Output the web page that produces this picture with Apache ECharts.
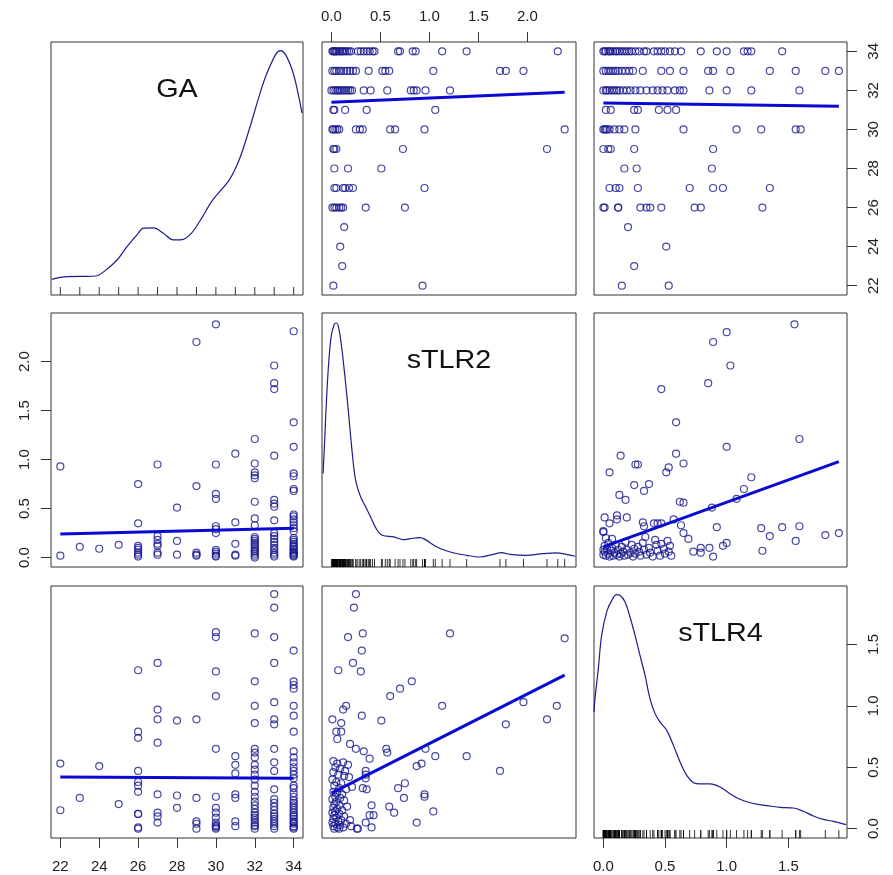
<!DOCTYPE html>
<html>
<head>
<meta charset="utf-8">
<script src="https://cdn.jsdelivr.net/npm/echarts@6/dist/echarts.min.js"></script>
<style>
  html, body { margin: 0; padding: 0; background: #fff; }
  #chart { width: 893px; height: 875px; }
</style>
</head>
<body>
<div id="chart"></div>
<script>
// variables on the diagonal
const varNames = ['GA', 'sTLR2', 'sTLR4']

// tick labels
const gaTicks = [22, 24, 26, 28, 30, 32, 34]
const s2Ticks = [0, 0.5, 1, 1.5, 2]
const s4Ticks = [0, 0.5, 1, 1.5]

// sTLR2 values for each GA week
const s2ByGA = [
  [22, [0.02, 0.93]],
  [23, [0.11]],
  [24, [0.09]],
  [25, [0.13]],
  [26, [0.01, 0.03, 0.05, 0.08, 0.10, 0.12, 0.35, 0.75]],
  [27, [0.03, 0.05, 0.12, 0.14, 0.18, 0.22, 0.95]],
  [28, [0.03, 0.17, 0.51]],
  [29, [0.02, 0.03, 0.05, 0.73, 2.20]],
  [30, [0.01, 0.02, 0.04, 0.06, 0.08, 0.25, 0.29, 0.32, 0.60, 0.65, 0.95, 2.38]],
  [31, [0.02, 0.03, 0.14, 0.36, 1.06]],
  [32, [0.00, 0.02, 0.04, 0.06, 0.07, 0.09, 0.11, 0.13, 0.15, 0.17, 0.19, 0.21, 0.33, 0.40, 0.57, 0.81, 0.84, 0.87, 0.96, 1.21]],
  [33, [0.01, 0.03, 0.05, 0.08, 0.10, 0.13, 0.16, 0.19, 0.22, 0.25, 0.38, 0.52, 0.55, 0.59, 1.04, 1.72, 1.78, 1.96]],
  [34, [0.01, 0.02, 0.03, 0.04, 0.05, 0.06, 0.08, 0.09, 0.11, 0.12, 0.14, 0.16, 0.18, 0.20, 0.27, 0.30, 0.33, 0.36, 0.39, 0.42, 0.44, 0.68, 0.70, 0.83, 0.86, 1.13, 1.38, 2.31]]
]

// sTLR4 values for each GA week
const s4ByGA = [
  [22, [0.15, 0.53]],
  [23, [0.25]],
  [24, [0.51]],
  [25, [0.20]],
  [26, [0.00, 0.01, 0.12, 0.12, 0.30, 0.35, 0.38, 0.47, 0.74, 0.79, 1.29]],
  [27, [0.05, 0.10, 0.13, 0.28, 0.70, 0.89, 0.97, 1.35]],
  [28, [0.17, 0.27, 0.88]],
  [29, [0.00, 0.04, 0.06, 0.25, 0.89]],
  [30, [0.00, 0.01, 0.02, 0.03, 0.05, 0.09, 0.13, 0.17, 0.26, 0.65, 1.08, 1.28, 1.56, 1.60]],
  [31, [0.02, 0.06, 0.25, 0.28, 0.45, 0.52, 0.59]],
  [32, [0.00, 0.02, 0.03, 0.05, 0.07, 0.09, 0.11, 0.13, 0.16, 0.19, 0.22, 0.26, 0.30, 0.35, 0.40, 0.44, 0.48, 0.52, 0.58, 0.62, 0.65, 0.86, 1.00, 1.20, 1.59]],
  [33, [0.00, 0.02, 0.04, 0.06, 0.08, 0.10, 0.12, 0.15, 0.18, 0.21, 0.24, 0.32, 0.47, 0.54, 0.65, 0.85, 0.89, 1.03, 1.35, 1.56, 1.80, 1.91]],
  [34, [0.00, 0.01, 0.02, 0.04, 0.05, 0.06, 0.08, 0.10, 0.11, 0.13, 0.15, 0.17, 0.19, 0.21, 0.23, 0.26, 0.29, 0.33, 0.35, 0.41, 0.44, 0.47, 0.50, 0.54, 0.58, 0.63, 0.79, 0.92, 1.00, 1.14, 1.17, 1.20, 1.45]]
]

// [sTLR2, sTLR4]
const s2s4 = [
  [0.25, 1.91], [0.23, 1.80], [0.17, 1.56], [0.32, 1.59], [0.31, 1.45], [1.21, 1.59], [2.38, 1.55],
  [0.22, 1.35], [0.30, 1.28], [0.07, 1.29], [0.82, 1.20], [0.70, 1.14], [0.60, 1.08], [1.13, 1.00],
  [1.96, 1.03], [2.30, 1.00], [2.20, 0.89], [1.78, 0.85], [0.15, 1.00], [0.12, 0.97], [0.01, 0.89],
  [0.10, 0.86], [0.05, 0.79], [0.10, 0.79], [0.06, 0.73], [0.31, 0.92], [0.51, 0.88], [0.19, 0.69],
  [0.25, 0.65], [0.33, 0.63], [0.56, 0.65], [0.57, 0.62], [0.96, 0.65], [0.39, 0.57], [1.06, 0.59],
  [1.38, 0.59], [0.87, 0.51], [0.92, 0.53], [1.72, 0.47], [0.35, 0.47], [0.35, 0.44], [0.35, 0.41],
  [0.13, 0.43], [0.21, 0.34], [0.32, 0.33], [0.36, 0.32], [0.68, 0.33], [0.75, 0.37], [0.74, 0.25],
  [0.95, 0.28], [0.95, 0.26], [0.41, 0.19], [0.59, 0.18], [0.64, 0.13], [1.04, 0.14], [0.87, 0.05],
  [0.39, 0.11], [0.43, 0.11], [0.35, 0.05], [0.41, 0.01], [0.26, 0.00], [0.27, 0.00], [0.19, 0.07],
  [0.02, 0.55], [0.06, 0.53], [0.12, 0.54], [0.17, 0.52], [0.04, 0.50], [0.09, 0.49], [0.14, 0.47],
  [0.02, 0.46], [0.07, 0.44], [0.18, 0.42], [0.01, 0.40], [0.05, 0.38], [0.10, 0.37], [0.03, 0.35],
  [0.08, 0.33], [0.15, 0.32], [0.02, 0.30], [0.06, 0.29], [0.11, 0.28], [0.04, 0.26], [0.09, 0.25],
  [0.01, 0.24], [0.13, 0.23], [0.05, 0.22], [0.03, 0.20], [0.08, 0.19], [0.16, 0.18], [0.02, 0.17],
  [0.06, 0.16], [0.11, 0.15], [0.04, 0.14], [0.01, 0.13], [0.08, 0.12], [0.03, 0.11], [0.13, 0.10],
  [0.05, 0.09], [0.02, 0.08], [0.10, 0.07], [0.07, 0.06], [0.01, 0.05], [0.04, 0.04], [0.15, 0.04],
  [0.09, 0.03], [0.02, 0.02], [0.06, 0.01], [0.03, 0.00], [0.12, 0.01], [0.20, 0.02], [0.08, 0.00]
]

// density curves on the diagonal
const gaDensX = [21.56, 22.2, 23.82, 24.24, 24.92, 25.43, 25.94, 26.28, 26.79, 27.30, 27.81, 28.15, 28.66, 29.16, 29.84, 30.69, 31.20, 31.71, 32.22, 32.56, 33.07, 33.32, 33.58, 33.92, 34.17, 34.43]
const gaDensY = [0.0155, 0.018, 0.0188, 0.0231, 0.0346, 0.0478, 0.0594, 0.066, 0.0663, 0.061, 0.0544, 0.0544, 0.0594, 0.0726, 0.094, 0.1138, 0.1336, 0.1633, 0.1962, 0.216, 0.2375, 0.2414, 0.2375, 0.2226, 0.2045, 0.1797]
const s2DensX = [-0.085, -0.074, -0.041, -0.007, 0.027, 0.054, 0.078, 0.112, 0.162, 0.213, 0.247, 0.298, 0.349, 0.399, 0.467, 0.518, 0.636, 0.738, 0.805, 0.907, 0.958, 1.076, 1.212, 1.381, 1.516, 1.651, 1.736, 1.821, 1.990, 2.159, 2.294, 2.396, 2.487]
const s2DensY = [1.179, 1.453, 2.316, 2.863, 3.053, 3.074, 2.989, 2.695, 2.105, 1.432, 1.095, 0.884, 0.758, 0.632, 0.463, 0.400, 0.379, 0.345, 0.358, 0.371, 0.345, 0.253, 0.189, 0.147, 0.126, 0.160, 0.181, 0.160, 0.147, 0.168, 0.177, 0.160, 0.135]
const s4DensX = [-0.076, -0.068, -0.041, -0.014, 0.027, 0.068, 0.108, 0.135, 0.176, 0.216, 0.257, 0.297, 0.338, 0.378, 0.419, 0.459, 0.514, 0.568, 0.622, 0.676, 0.730, 0.784, 0.865, 0.946, 1.027, 1.108, 1.189, 1.270, 1.351, 1.432, 1.541, 1.622, 1.703, 1.784, 1.865, 1.968]
const s4DensY = [1.000, 1.106, 1.344, 1.608, 1.794, 1.886, 1.931, 1.926, 1.873, 1.754, 1.608, 1.450, 1.291, 1.106, 0.987, 0.921, 0.854, 0.735, 0.603, 0.497, 0.439, 0.429, 0.429, 0.405, 0.352, 0.307, 0.280, 0.265, 0.254, 0.243, 0.238, 0.212, 0.175, 0.148, 0.132, 0.106]

// fitted lines, [x, y] end points per panel "row,col"
const fitLines = {
  '0,1': [[0.0, 31.40], [2.38, 31.90]],
  '0,2': [[0.0, 31.36], [1.91, 31.19]],
  '1,0': [[22, 0.24], [34, 0.30]],
  '1,2': [[0.0, 0.11], [1.91, 0.98]],
  '2,0': [[22, 0.42], [34, 0.41]],
  '2,1': [[0.0, 0.29], [2.38, 1.25]]
}

// axis limits (data range + 4%)
const limits = [[21.52, 34.48], [-0.096, 2.496], [-0.076, 1.976]]
const densMax = [0.25, 3.2, 2.0]

const cols = [[51, 252], [322, 254], [594, 253]]
const rows = [[42, 253], [313, 254], [586, 252]]

const pointColor = '#1a1a8e'
const fitColor = '#0a0ad2'
const font = '"Liberation Sans", Arial, sans-serif'

// build pairs
const gaS2 = s2ByGA.flatMap(([g, vals]) => vals.map(v => [g, v]))
const gaS4 = s4ByGA.flatMap(([g, vals]) => vals.map(v => [g, v]))
const pairData = {
  '0,1': gaS2.map(([g, v]) => [v, g]),
  '1,0': gaS2,
  '0,2': gaS4.map(([g, v]) => [v, g]),
  '2,0': gaS4,
  '1,2': s2s4.map(([a, b]) => [b, a]),
  '2,1': s2s4
}
const density = [
  gaDensX.map((x, i) => [x, gaDensY[i]]),
  s2DensX.map((x, i) => [x, s2DensY[i]]),
  s4DensX.map((x, i) => [x, s4DensY[i]])
]
const rugs = [
  s2ByGA.map(d => d[0]),
  gaS2.map(d => d[1]),
  gaS4.map(d => d[1])
]
const tickSets = [gaTicks, s2Ticks, s4Ticks]
const fmt = [v => String(v), v => v.toFixed(1), v => v.toFixed(1)]

function axis(range, opts) {
  const o = opts || {}
  const show = !!o.ticks
  return {
    type: 'value',
    min: range[0],
    max: range[1],
    position: o.position,
    splitLine: { show: false },
    axisLine: { show: false, onZero: false },
    axisTick: {
      show: show,
      length: 10,
      customValues: o.ticks,
      lineStyle: { color: '#333', width: 1 }
    },
    axisLabel: {
      show: show,
      customValues: o.ticks,
      margin: o.margin || 19,
      rotate: o.rotate || 0,
      formatter: o.fmt,
      color: '#222',
      fontSize: 15,
      fontFamily: font
    }
  }
}

const grid = [], xAxis = [], yAxis = [], series = [], graphic = []

for (let i = 0; i < 3; i++) {
  for (let j = 0; j < 3; j++) {
    const k = i * 3 + j
    grid.push({
      left: cols[j][0], width: cols[j][1],
      top: rows[i][0], height: rows[i][1],
      show: true, borderColor: '#333', borderWidth: 1,
      backgroundColor: 'transparent'
    })

    // x axis: top for col 2 on row 1, bottom for cols 1 and 3 on row 3
    let xo = {}
    if (i === 0 && j === 1) xo = { position: 'top', ticks: tickSets[j], fmt: fmt[j], margin: 18 }
    if (i === 2 && j !== 1) xo = { position: 'bottom', ticks: tickSets[j], fmt: fmt[j], margin: 21 }
    xAxis.push(Object.assign(axis(limits[j], xo), { gridIndex: k }))

    if (i === j) {
      yAxis.push(Object.assign(axis([0, densMax[i]]), { gridIndex: k }))
    } else {
      let yo = {}
      if (i === 0 && j === 2) yo = { position: 'right', ticks: tickSets[i], fmt: fmt[i], rotate: 90 }
      if (i === 1 && j === 0) yo = { position: 'left', ticks: tickSets[i], fmt: fmt[i], rotate: 90 }
      yAxis.push(Object.assign(axis(limits[i], yo), { gridIndex: k }))
    }

    if (i === j) {
      series.push({
        type: 'line', xAxisIndex: k, yAxisIndex: k,
        data: density[i], showSymbol: false, smooth: 0.35,
        lineStyle: { color: '#1c1c8c', width: 1.2 }, silent: true
      })
      series.push({
        type: 'scatter', xAxisIndex: k, yAxisIndex: k,
        data: rugs[i].map(v => [v, 0]),
        symbol: 'rect', symbolSize: [1, 8], symbolOffset: [0, -4],
        itemStyle: { color: '#000' }, silent: true
      })
      graphic.push({
        type: 'text',
        x: cols[j][0] + cols[j][1] / 2,
        y: rows[i][0] + 48,
        scaleX: 1.15,
        style: {
          text: varNames[i], fill: '#111',
          font: '25px ' + font,
          align: 'center', verticalAlign: 'middle'
        }
      })
    } else {
      const key = i + ',' + j
      series.push({
        type: 'scatter', xAxisIndex: k, yAxisIndex: k,
        data: pairData[key], symbol: 'circle', symbolSize: 7,
        itemStyle: { color: 'rgba(0,0,0,0)', borderColor: pointColor, borderWidth: 1.2 },
        silent: true
      })
      series.push({
        type: 'line', xAxisIndex: k, yAxisIndex: k,
        data: fitLines[key], showSymbol: false,
        lineStyle: { color: fitColor, width: 3 }, silent: true, z: 3
      })
    }
  }
}

// extra right axis on the sTLR4 density panel (scale of row 3)
yAxis.push(Object.assign(axis(limits[2], { position: 'right', ticks: s4Ticks, fmt: fmt[2], rotate: 90 }), { gridIndex: 8 }))

const chart = echarts.init(document.getElementById('chart'))
chart.setOption({
  animation: false,
  backgroundColor: '#fff',
  grid, xAxis, yAxis, series, graphic
})
</script>
</body>
</html>
